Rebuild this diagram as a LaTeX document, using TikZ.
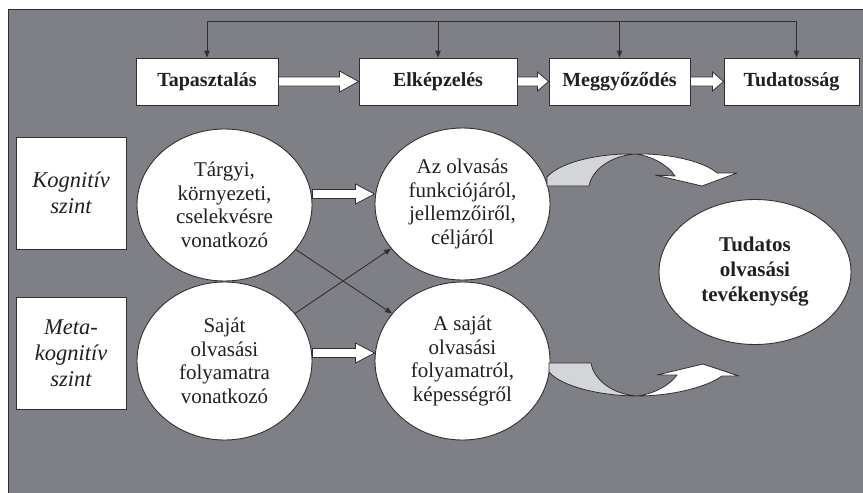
\documentclass[tikz,border=0pt]{standalone}
\usepackage{fontspec}
\setmainfont{Liberation Serif}
\usetikzlibrary{shapes.geometric,arrows.meta,calc}
\definecolor{panel}{RGB}{127,128,133}
\definecolor{ink}{RGB}{35,31,32}
\definecolor{edge}{RGB}{48,48,50}
\definecolor{shade}{RGB}{212,213,216}

% hollow block arrow between two points: start, end, shaft half-height, head half-height, head length
\newcommand\blockarrow[5]{%
  \draw[blk] let \p1=(#1), \p2=(#2) in
    (\x1,\y1+#3) -- (\x2-#5,\y1+#3) -- (\x2-#5,\y1+#4) -- (\x2,\y1)
    -- (\x2-#5,\y1-#4) -- (\x2-#5,\y1-#3) -- (\x1,\y1-#3) -- cycle;}

\begin{document}
\begin{tikzpicture}[x=1pt,y=-1pt,
  box/.style={draw=edge,fill=white,line width=0.9pt,inner sep=0pt,text=ink},
  stage/.style={box,minimum height=47pt,font=\bfseries\fontsize{20}{22}\selectfont},
  level/.style={box,minimum width=110pt,minimum height=112pt,align=center,
    font=\itshape\fontsize{22.5}{26}\selectfont},
  bubble/.style={box,ellipse,minimum width=175pt,align=center,
    font=\fontsize{21}{23.5}\selectfont},
  link/.style={draw=edge,line width=0.9pt,-{Triangle[length=7pt,width=5.5pt]}},
  rail/.style={draw=edge,line width=0.9pt},
  blk/.style={draw=edge,fill=white,line width=0.8pt,line join=miter},
  twist/.style={draw=edge,line width=0.8pt,line join=round},
]
\useasboundingbox (0,0) rectangle (863,493);

% background panel
\fill[panel] (8,9) rectangle (863,493);
\draw[edge,line width=0.9pt] (8,493) -- (8,9) -- (863,9);

% stages
\node[stage,minimum width=142pt] (tap)  at (207,81.5)   {Tapasztalás};
\node[stage,minimum width=158pt] (elk)  at (438,81.5)   {Elképzelés};
\node[stage,minimum width=141pt] (meg)  at (619.5,81.5) {Meggyőződés};
\node[stage,minimum width=135pt] (tud)  at (791.5,81.5) {Tudatosság};

% feedback rail above the stages
\coordinate (railY) at (0,21);
\coordinate (d4) at ([xshift=5pt]tud.north);
\draw[rail] (tap.north |- railY) -- (d4 |- railY);
\draw[link] (tap.north |- railY) -- (tap.north);
\draw[link] (elk.north |- railY) -- (elk.north);
\draw[link] (meg.north |- railY) -- (meg.north);
\draw[link] (d4 |- railY) -- (d4);

\blockarrow{tap.east}{elk.west}{4.5pt}{10.5pt}{19pt}
\blockarrow{elk.east}{meg.west}{4.5pt}{9.5pt}{11pt}
\blockarrow{meg.east}{tud.west}{4.5pt}{9.5pt}{11pt}

% levels
\node[level] (kog)  at (71,193) {Kognitív\\szint};
\node[level] (meta) at (71,353) {Meta-\\kognitív\\szint};

% bubbles
\node[bubble,minimum height=152pt] (tl) at (224.5,205) {Tárgyi,\\környezeti,\\cselekvésre\\vonatkozó};
\node[bubble,minimum height=158pt] (bl) at (224.5,361) {Saját\\olvasási\\folyamatra\\vonatkozó};
\node[bubble,minimum height=152pt] (tm) at (462.5,204) {Az olvasás\\funkciójáról,\\jellemzőiről,\\céljáról};
\node[bubble,minimum height=158pt] (bm) at (462.5,361) {A saját\\olvasási\\folyamatról,\\képességről};
\node[bubble,minimum width=192pt,minimum height=145pt,font=\bfseries\fontsize{21}{25}\selectfont]
  (goal) at (755,272) {Tudatos\\olvasási\\tevékenység};

% bubble-to-bubble block arrows
\blockarrow{[yshift=11pt]tl.east}{[yshift=11pt]tm.west}{4.5pt}{10pt}{19pt}
\blockarrow{[yshift=8pt]bl.east}{[yshift=8pt]bm.west}{4.5pt}{10pt}{19pt}

% crossing thin arrows
\draw[link] (tl.-32) -- (bm.146);
\draw[link] (bl.34) -- (tm.-148);

% twisted curved arrow, upper
\filldraw[twist,fill=shade] (547,186) -- (547,177)
  .. controls (560,162) and (600,153) .. (635,154)
  .. controls (610,156) and (592,170) .. (589,186) -- cycle;
\filldraw[twist,fill=white] (635,154)
  .. controls (670,153) and (705,162) .. (717,173)
  -- (737,173) -- (702,186) -- (655,175) -- (675,176)
  .. controls (668,165) and (652,156) .. (635,154) -- cycle;

% twisted curved arrow, lower
\filldraw[twist,fill=shade] (549,363) -- (549,372)
  .. controls (562,387) and (602,396) .. (637,396)
  .. controls (612,394) and (594,380) .. (591,363) -- cycle;
\filldraw[twist,fill=white] (637,396)
  .. controls (672,396) and (707,387) .. (722,376)
  -- (739,376) -- (703,364) -- (657,375) -- (677,375)
  .. controls (670,385) and (654,394) .. (637,396) -- cycle;
\end{tikzpicture}
\end{document}
